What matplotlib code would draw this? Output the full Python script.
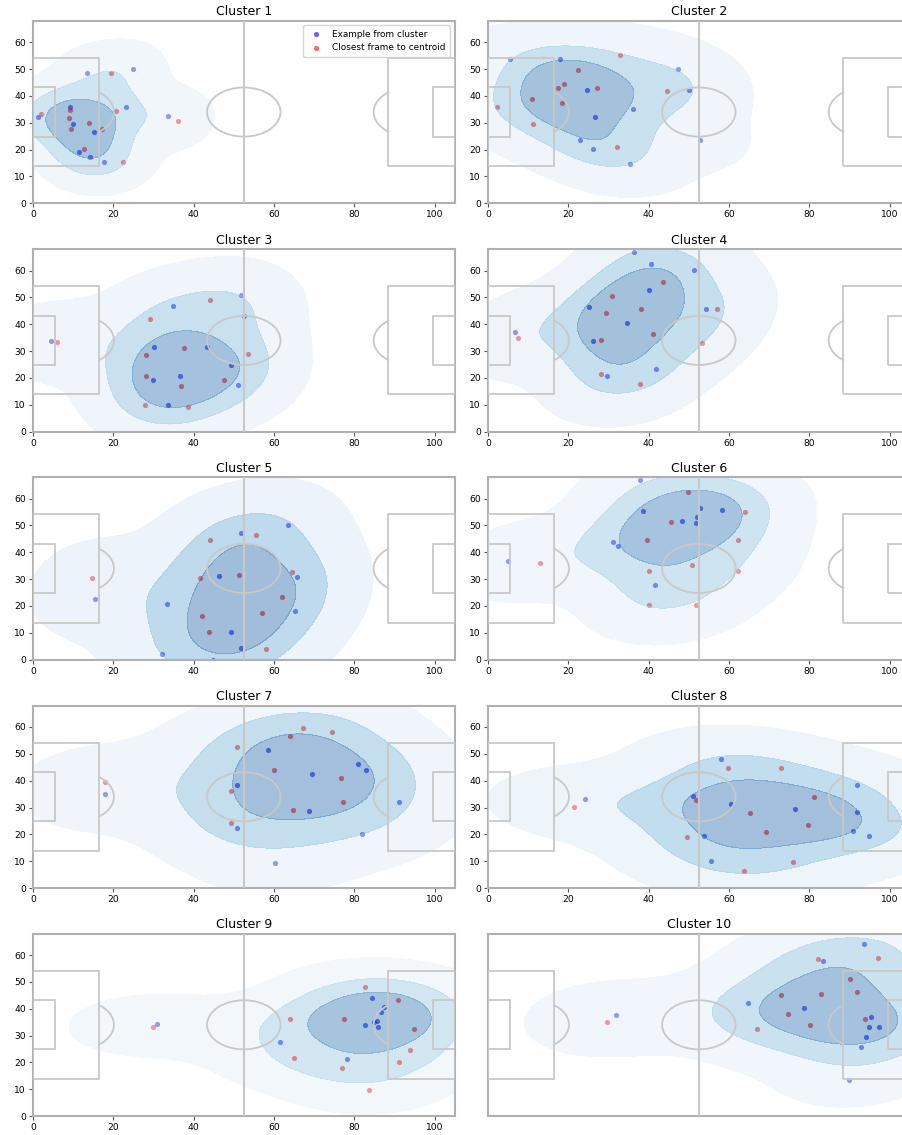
import numpy as np
import matplotlib
matplotlib.use('Agg')
import matplotlib.pyplot as plt
from matplotlib.patches import Rectangle, Circle

# -------------------------------
# Data: one frame per cluster (11 players each), pitch 105 x 68
# -------------------------------
example_1 = np.array([[1.2, 32.0], [13.4, 48.4], [24.8, 50.2], [9.1, 35.8], [10.0, 29.7], [23.1, 36.0],
                      [15.2, 26.7], [11.5, 19.1], [14.1, 17.1], [17.6, 15.5], [33.6, 32.4]])
closest_1 = np.array([[2.0, 33.4], [9.3, 34.7], [9.0, 31.8], [9.5, 27.7], [14.0, 29.9], [17.3, 27.7],
                      [20.6, 34.4], [19.4, 48.4], [12.7, 20.4], [22.3, 15.5], [36.0, 30.7]])

example_2 = np.array([[5.5, 53.7], [17.9, 53.9], [24.7, 42.1], [26.6, 32.2], [22.9, 23.4], [26.1, 20.1],
                      [36.0, 35.0], [35.3, 14.7], [47.3, 50.2], [50.0, 42.1], [52.7, 23.7]])
closest_2 = np.array([[2.2, 35.8], [10.9, 38.8], [11.2, 29.4], [17.4, 43.1], [18.9, 44.6], [18.5, 37.3],
                      [22.5, 49.7], [27.2, 43.1], [32.8, 55.4], [32.2, 21.1], [44.5, 41.7]])

example_3 = np.array([[4.4, 33.9], [30.1, 31.4], [29.8, 19.1], [33.7, 10.0], [34.8, 46.9], [36.7, 20.8],
                      [43.4, 31.4], [49.2, 24.7], [51.0, 17.3], [51.9, 50.8], [52.5, 43.2]])
closest_3 = np.array([[5.9, 33.3], [28.2, 28.4], [28.2, 20.9], [29.2, 41.8], [27.9, 10.0], [37.6, 31.0],
                      [36.8, 17.1], [38.6, 9.2], [44.0, 48.9], [47.6, 19.4], [53.5, 29.1]])

example_4 = np.array([[6.6, 37.2], [26.2, 33.9], [25.2, 46.6], [34.5, 40.5], [29.7, 20.7], [36.4, 67.0],
                      [40.6, 62.3], [40.0, 52.6], [41.9, 23.2], [51.2, 60.1], [54.3, 45.7]])
closest_4 = np.array([[7.4, 35.0], [28.2, 34.2], [29.4, 44.2], [30.8, 50.4], [28.1, 21.5], [38.2, 45.7],
                      [41.2, 36.2], [37.9, 17.8], [43.6, 55.9], [53.3, 33.1], [57.1, 45.6]])

example_5 = np.array([[15.5, 22.5], [32.1, 2.2], [33.3, 20.7], [46.4, 31.2], [49.3, 10.3], [51.7, 47.1],
                      [51.9, 4.3], [63.4, 50.2], [65.8, 30.7], [65.3, 18.1], [44.8, 0.0]])
closest_5 = np.array([[14.6, 30.6], [41.7, 30.4], [42.0, 16.1], [44.1, 44.6], [43.9, 10.3], [51.4, 31.6],
                      [55.6, 46.5], [57.1, 17.5], [58.0, 3.9], [62.1, 23.2], [64.6, 32.5]])

example_6 = np.array([[5.1, 36.8], [31.1, 43.7], [32.5, 42.2], [37.8, 66.8], [38.5, 55.4], [41.5, 27.7],
                      [48.4, 51.8], [51.7, 50.9], [52.0, 53.2], [52.9, 56.6], [58.4, 55.9]])
closest_6 = np.array([[12.9, 36.1], [39.5, 44.5], [40.0, 33.2], [40.2, 20.5], [45.5, 51.3], [49.9, 62.4],
                      [50.8, 35.4], [51.9, 20.4], [62.2, 44.6], [62.2, 33.2], [64.0, 54.9]])

example_7 = np.array([[17.9, 34.9], [50.9, 38.4], [50.9, 22.4], [58.5, 51.4], [60.3, 9.2], [69.6, 42.4],
                      [68.8, 28.8], [81.0, 46.2], [82.9, 43.9], [81.9, 20.2], [91.2, 32.0]])
closest_7 = np.array([[18.0, 39.5], [49.3, 36.1], [49.4, 24.1], [50.7, 52.4], [60.0, 44.0], [64.0, 56.8],
                      [67.3, 59.5], [64.7, 29.2], [74.4, 58.0], [76.6, 41.1], [77.2, 32.2]])

example_8 = np.array([[24.1, 33.2], [51.0, 34.3], [53.7, 19.4], [55.5, 10.1], [58.1, 48.2], [60.5, 31.2],
                      [76.4, 29.6], [91.9, 38.5], [91.8, 28.3], [91.0, 21.2], [95.0, 19.5]])
closest_8 = np.array([[21.3, 30.3], [51.8, 32.9], [49.6, 19.0], [59.7, 44.8], [65.2, 27.8], [63.8, 6.5],
                      [69.3, 20.7], [73.0, 44.7], [75.9, 9.8], [79.8, 23.5], [81.2, 33.8]])

example_9 = np.array([[31.0, 34.2], [61.5, 27.6], [78.3, 21.2], [82.8, 33.8], [84.5, 43.9], [85.0, 35.2],
                      [85.7, 35.4], [85.9, 33.3], [86.7, 38.9], [87.5, 40.7]])
closest_9 = np.array([[29.9, 33.2], [63.9, 36.1], [65.0, 21.5], [77.0, 18.0], [77.4, 36.0], [82.6, 48.2],
                      [83.8, 9.6], [90.8, 43.1], [91.2, 20.1], [93.9, 24.5], [95.0, 32.4]])

example_10 = np.array([[31.9, 37.6], [64.7, 42.0], [78.6, 40.3], [83.4, 57.8], [93.7, 64.1], [95.3, 36.9],
                       [94.8, 33.3], [97.3, 33.3], [94.1, 29.4], [92.9, 25.7], [90.0, 13.6]])
closest_10 = np.array([[29.6, 34.9], [66.9, 32.5], [72.9, 45.1], [74.6, 38.1], [80.1, 33.8], [82.1, 58.6],
                       [82.9, 45.3], [90.1, 51.2], [91.9, 46.3], [94.0, 36.2], [97.1, 59.0]])

examples = [example_1, example_2, example_3, example_4, example_5,
            example_6, example_7, example_8, example_9, example_10]
closests = [closest_1, closest_2, closest_3, closest_4, closest_5,
            closest_6, closest_7, closest_8, closest_9, closest_10]

PITCH_L, PITCH_W = 105, 68
LINE_COL = '#c8c8c8'
BW_ADJUST = 1.2


def kde_grid(pts):
    # plain gaussian kde, scott bandwidth
    n = pts.shape[0]
    cov = np.cov(pts.T) * (BW_ADJUST ** 2) * n ** (-1 / 3)
    inv = np.linalg.inv(cov)
    xs = np.linspace(-20, 125, 240)
    ys = np.linspace(-20, 88, 200)
    xx, yy = np.meshgrid(xs, ys)
    grid = np.stack([xx.ravel(), yy.ravel()], axis=1)
    dens = np.zeros(grid.shape[0])
    for p in pts:
        d = grid - p
        dens += np.exp(-0.5 * np.einsum('ij,jk,ik->i', d, inv, d))
    dens /= n * 2 * np.pi * np.sqrt(np.linalg.det(cov))
    return xx, yy, dens.reshape(xx.shape)


def iso_levels(dens, props):
    vals = np.sort(dens.ravel())[::-1]
    cum = np.cumsum(vals) / vals.sum()
    idx = np.searchsorted(cum, 1 - np.asarray(props))
    return np.take(vals, idx, mode='clip')


def draw_pitch(ax):
    kw = dict(color=LINE_COL, lw=1.3, fill=False, zorder=3)
    ax.plot([52.5, 52.5], [0, PITCH_W], color=LINE_COL, lw=1.5, zorder=3)
    ax.add_patch(Circle((52.5, 34), 9.15, **kw))
    ax.add_patch(Rectangle((0, 13.84), 16.5, 40.32, **kw))
    ax.add_patch(Rectangle((88.5, 13.84), 16.5, 40.32, **kw))
    ax.add_patch(Rectangle((0, 24.84), 5.5, 18.32, **kw))
    ax.add_patch(Rectangle((99.5, 24.84), 5.5, 18.32, **kw))
    # penalty arcs, only the part outside the box
    t = np.deg2rad(np.linspace(-53.05, 53.05, 60))
    ax.plot(11 + 9.15 * np.cos(t), 34 + 9.15 * np.sin(t), color=LINE_COL, lw=1.3, zorder=3)
    ax.plot(94 - 9.15 * np.cos(t), 34 + 9.15 * np.sin(t), color=LINE_COL, lw=1.3, zorder=3)


fig = plt.figure(figsize=(9.02, 11.35), dpi=100)

lefts = [33 / 902, 488 / 902]
bottoms = [0.8209, 0.6197, 0.4188, 0.2176, 0.0167]
w, h = 421.6 / 902, 182.5 / 1135

for i in range(10):
    row, col = i // 2, i % 2
    ax = fig.add_axes([lefts[col], bottoms[row], w, h])
    ex, cl = examples[i], closests[i]

    s1 = ax.scatter(ex[:, 0], ex[:, 1], s=14, color='blue', alpha=0.6, lw=0, zorder=1,
                    label='Example from cluster')
    s2 = ax.scatter(cl[:, 0], cl[:, 1], s=14, color='red', alpha=0.6, lw=0, zorder=1,
                    label='Closest frame to centroid')

    xx, yy, dens = kde_grid(np.vstack([ex, cl]))
    lv = iso_levels(dens, np.linspace(0.05, 1, 4))
    cs = ax.contourf(xx, yy, dens, levels=lv, cmap='Blues', alpha=0.38, zorder=2)
    cs.set_edgecolor('none')
    cs.set_linewidth(0)

    draw_pitch(ax)
    ax.set_xlim(0, PITCH_L)
    ax.set_ylim(0, PITCH_W)
    ax.set_title(f'Cluster {i + 1}', fontsize=9, pad=4)
    ax.tick_params(labelsize=6.6, length=3, width=0.8, color='#555555', pad=2)
    ax.set_xticks([0, 20, 40, 60, 80, 100])
    ax.set_yticks([0, 10, 20, 30, 40, 50, 60])
    for sp in ax.spines.values():
        sp.set_color('#b0b0b0')
        sp.set_linewidth(1.5)
    if i == 9:
        ax.set_xticks([])
        ax.set_yticks([])
    if i == 0:
        ax.legend(handles=[s1, s2], loc='upper right', fontsize=6.4, borderpad=0.5,
                  handletextpad=0.8, framealpha=0.8)

fig.savefig('out.png', dpi=100)
